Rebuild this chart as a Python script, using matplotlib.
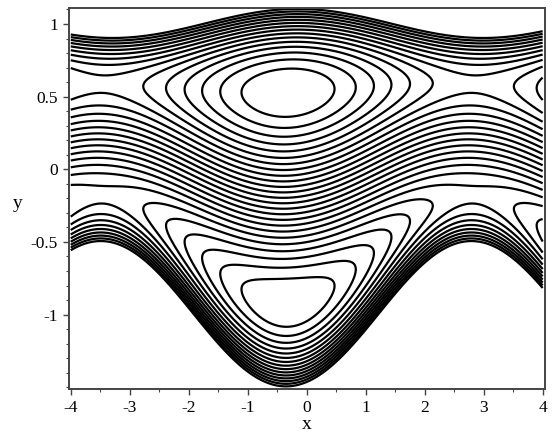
import numpy as np
import matplotlib
matplotlib.use("Agg")
import matplotlib.pyplot as plt

# === walls of the channel (wave frame) ===
TOP_MEAN, TOP_AMP, TOP_PHASE = 1.01, 0.10, 0.15
BOT_MEAN, BOT_AMP, BOT_PHASE = -1.0, 0.50, 0.35

# === flow parameters ===
FLUX = -0.08          # time-mean flow rate in wave frame
H_MEAN, H_GAIN = 2.0, 1.0
N_CONTOURS = 25

X_RANGE = (-4.0, 4.0)
X_TICKS = [-4, -3, -2, -1, 0, 1, 2, 3, 4]
Y_TICKS = [-1, -0.5, 0, 0.5, 1]
Y_TICK_LABELS = ['-1', '-0.5', '0', '0.5', '1']

plt.rcParams['font.family'] = ['Liberation Serif', 'DejaVu Serif']
plt.rcParams['axes.unicode_minus'] = False

x = np.linspace(X_RANGE[0], X_RANGE[1], 900)
y = np.linspace(-1.52, 1.12, 900)
X, Y = np.meshgrid(x, y)

h1 = TOP_MEAN + TOP_AMP * np.cos(X + TOP_PHASE)
h2 = BOT_MEAN - BOT_AMP * np.cos(X + BOT_PHASE)
h = h1 - h2
H = H_MEAN + H_GAIN * (h - H_MEAN)
eta = (Y - h2) / h

psi = -FLUX / 2 + (FLUX + H) * (3 * eta**2 - 2 * eta**3) - H * eta
psi = np.where((Y >= h2) & (Y <= h1), psi, np.nan)

levels = np.linspace(np.nanmin(psi), np.nanmax(psi), N_CONTOURS + 2)[1:-1]

fig = plt.figure(figsize=(5.55, 4.43), dpi=100)
ax = fig.add_axes([0.1243, 0.1219, 0.8577, 0.8600])
ax.contour(X, Y, psi, levels=levels, colors='black', linewidths=1.6,
           linestyles='solid')

ax.set_xlim(-4.03, 4.04)
ax.set_ylim(-1.512, 1.11)
ax.set_xticks(X_TICKS)
ax.set_xticklabels([str(t) for t in X_TICKS])
ax.set_xticks(np.arange(-3.5, 4.0, 1.0), minor=True)
ax.set_yticks(Y_TICKS)
ax.set_yticklabels(Y_TICK_LABELS)
ax.set_yticks(np.arange(-1.5, 1.11, 0.1), minor=True)
ax.tick_params(which='both', direction='out', colors='#444444',
               labelcolor='black', labelsize=12.5)
ax.tick_params(which='major', length=4, width=1, pad=4)
ax.tick_params(which='minor', length=2.5, width=0.8)
for s in ax.spines.values():
    s.set_color('#444444')
    s.set_linewidth(1.4)

ax.set_xlabel('x', fontsize=14)
ax.xaxis.label.set_va('center')
ax.xaxis.set_label_coords(0.5, -0.094)
ax.set_ylabel('y', fontsize=14, rotation=0)
ax.yaxis.label.set_va('center')
ax.yaxis.set_label_coords(-0.107, 0.488)

fig.savefig('out.png', dpi=100)
